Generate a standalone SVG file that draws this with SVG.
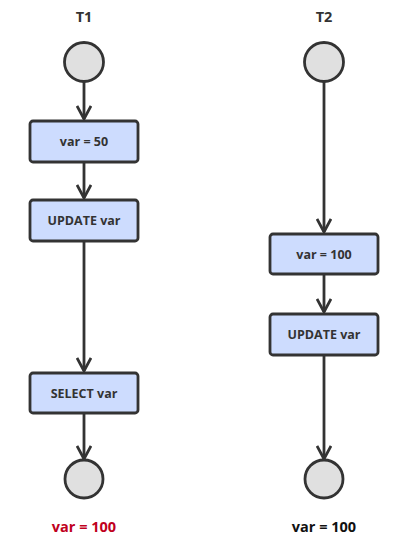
<svg xmlns="http://www.w3.org/2000/svg" width="400" height="543" viewBox="0 0 400 543">
<defs>
<style>
.box{fill:#cddcfe;stroke:#333;stroke-width:2.8}
.circ{fill:#e0e0e0;stroke:#333;stroke-width:2.8}
.edge{stroke:#333;stroke-width:2.8;fill:none}
.lbl{font-family:"Open Sans","Noto Sans",sans-serif;font-weight:700;font-size:12.5px;fill:#333;text-anchor:middle}
.title{font-family:"Open Sans","Noto Sans",sans-serif;font-weight:700;font-size:14.5px;fill:#333;text-anchor:middle}
</style>
<marker id="arr" viewBox="0 0 18 16" refX="16" refY="8" markerWidth="18" markerHeight="16" markerUnits="userSpaceOnUse" orient="auto">
<path d="M3,1 L16,8 L3,15" fill="none" stroke="#333" stroke-width="2.8"/>
</marker>
</defs>
<rect width="400" height="543" fill="#fff"/>
<text class="title" x="84" y="22">T1</text>
<text class="title" x="324" y="22">T2</text>
<g id="connectors">
<line class="edge" x1="84" y1="82" x2="84" y2="119" marker-end="url(#arr)"/>
<line class="edge" x1="84" y1="162" x2="84" y2="198" marker-end="url(#arr)"/>
<line class="edge" x1="84" y1="241" x2="84" y2="371" marker-end="url(#arr)"/>
<line class="edge" x1="84" y1="413" x2="84" y2="459" marker-end="url(#arr)"/>
<line class="edge" x1="324" y1="82" x2="324" y2="232" marker-end="url(#arr)"/>
<line class="edge" x1="324" y1="274" x2="324" y2="312" marker-end="url(#arr)"/>
<line class="edge" x1="324" y1="355" x2="324" y2="459" marker-end="url(#arr)"/>
</g>
<g id="t1start"><circle class="circ" cx="84" cy="62" r="19.5"/></g>
<g id="t1a"><rect class="box" x="30" y="121" width="108" height="41" rx="3"/><text class="lbl" x="84" y="146">var = 50</text></g>
<g id="t1b"><rect class="box" x="30" y="200" width="108" height="41" rx="3"/><text class="lbl" x="84" y="225">UPDATE var</text></g>
<g id="t1c"><rect class="box" x="30" y="373" width="108" height="40" rx="3"/><text class="lbl" x="84" y="398">SELECT var</text></g>
<g id="t1end"><circle class="circ" cx="84" cy="479" r="19"/></g>
<g id="t2start"><circle class="circ" cx="324" cy="62" r="19.5"/></g>
<g id="t2a"><rect class="box" x="270" y="234" width="108" height="40" rx="3"/><text class="lbl" x="324" y="259">var = 100</text></g>
<g id="t2b"><rect class="box" x="270" y="314" width="108" height="41" rx="3"/><text class="lbl" x="324" y="339">UPDATE var</text></g>
<g id="t2end"><circle class="circ" cx="324" cy="479" r="19"/></g>
<text class="title" x="84" y="532" style="fill:#c00020">var = 100</text>
<text class="title" x="324" y="532" style="fill:#111">var = 100</text>
</svg>
